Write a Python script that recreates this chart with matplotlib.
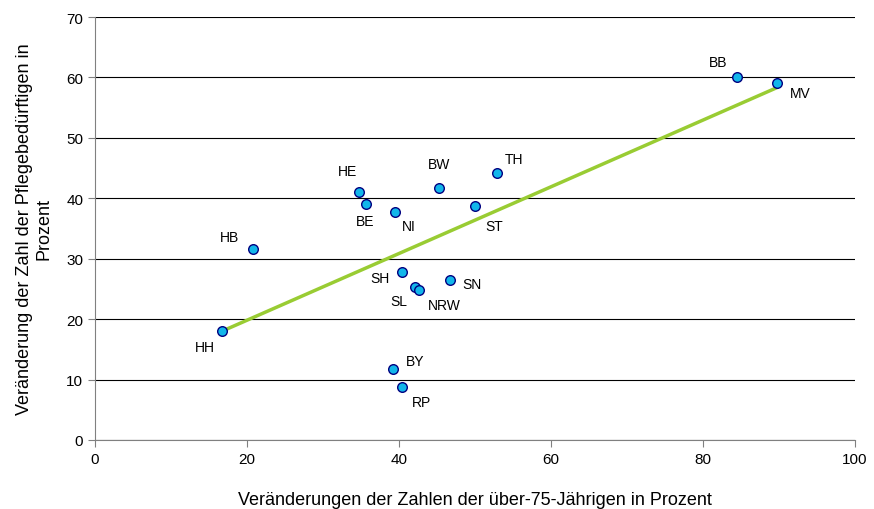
import matplotlib
matplotlib.use("Agg")
import matplotlib.pyplot as plt

plt.rcParams['font.family'] = ['Liberation Sans', 'DejaVu Sans']

# Daten
laender = ["BB", "MV", "TH", "BW", "HE", "BE", "NI", "ST", "HB",
           "SH", "SN", "SL", "NRW", "HH", "BY", "RP"]
ueber75 = [84.5, 89.7, 52.9, 45.3, 34.7, 35.7, 39.5, 50.0, 20.8,
           40.4, 46.7, 42.1, 42.6, 16.7, 39.2, 40.4]
pflege = [60.1, 59.1, 44.2, 41.7, 41.1, 39.1, 37.7, 38.7, 31.6,
          27.8, 26.5, 25.3, 24.8, 18.0, 11.8, 8.8]
trend_x = [16.7, 89.7]
trend_y = [18.0, 58.3]

# Beschriftungsversatz in Pixeln
offsets = {"BB": (-19, 15), "MV": (23, -10), "TH": (17, 14), "BW": (0, 24),
           "HE": (-11, 21), "BE": (-1, -17), "NI": (14, -14), "ST": (19, -20),
           "HB": (-24, 12), "SH": (-22, -6), "SN": (22, -4), "SL": (-16, -14),
           "NRW": (26, -15), "HH": (-17, -16), "BY": (22, 8), "RP": (19, -15)}

fig = plt.figure(figsize=(8.74, 5.10), dpi=100)
ax = fig.add_axes([0.1087, 0.1353, 0.8696, 0.8294])

ax.plot(trend_x, trend_y, color='#99CC33', lw=2.5, zorder=2)
ax.scatter(ueber75, pflege, s=48, color='#12B6EA', edgecolors='#000080',
           linewidths=1, zorder=3)

for name, xv, yv in zip(laender, ueber75, pflege):
    dx, dy = offsets[name]
    ax.annotate(name, (xv, yv), xytext=(dx, dy), textcoords='offset pixels',
                ha='center', va='center', fontsize=10)

ax.set_xlim(0, 100)
ax.set_ylim(0, 70)
ax.set_xticks(range(0, 101, 20))
ax.set_yticks(range(0, 71, 10))
ax.yaxis.grid(True, color='black', lw=0.8)
ax.set_axisbelow(True)
ax.spines['top'].set_visible(False)
ax.spines['right'].set_visible(False)
ax.spines['left'].set_color('#808080')
ax.spines['bottom'].set_color('#808080')
ax.tick_params(labelsize=11, color='#808080', length=5, direction='out')

ax.set_xlabel("Veränderungen der Zahlen der über-75-Jährigen in Prozent", fontsize=13, labelpad=18)
ax.set_ylabel("Veränderung der Zahl der Pflegebedürftigen in\nProzent", fontsize=13, labelpad=10)

fig.savefig("out.png", dpi=100)
